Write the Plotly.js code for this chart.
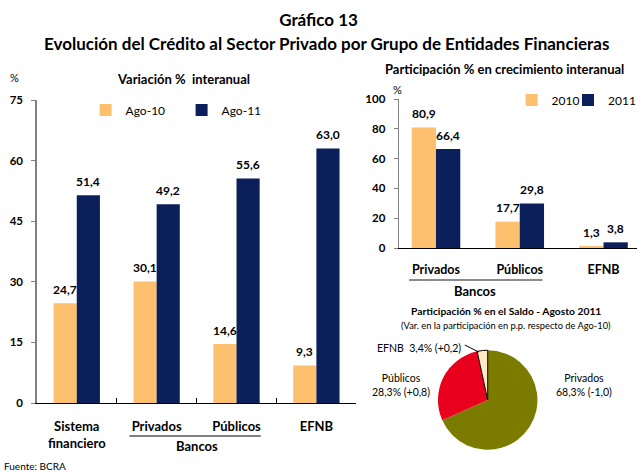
<!DOCTYPE html>
<html><head><meta charset="utf-8">
<script src="https://cdn.plot.ly/plotly-3.0.1.min.js"></script>
<style>html,body{margin:0;padding:0;background:#fff}#chart{width:641px;height:473px}</style>
</head><body><div id="chart"></div>
<script>
// ---- data ----
const catsLeft = ['Sistema<br>financiero', 'Privados', 'Públicos', 'EFNB'];
const ago10 = [24.7, 30.1, 14.6, 9.3];
const ago11 = [51.4, 49.2, 55.6, 63.0];
const seriesLeft = ['Ago-10', 'Ago-11'];
const yTicksLeft = [0, 15, 30, 45, 60, 75];

const catsRight = ['Privados', 'Públicos', 'EFNB'];
const part2010 = [80.9, 17.7, 1.3];
const part2011 = [66.4, 29.8, 3.8];
const seriesRight = ['2010', '2011'];
const yTicksRight = [0, 20, 40, 60, 80, 100];

const pieLabels = ['Privados', 'Públicos', 'EFNB'];
const pieShare = [68.3, 28.3, 3.4];
const pieChange = ['-1,0', '+0,8', '+0,2'];

// ---- style ----
const FONT = 'Lato, "Open Sans", sans-serif';
const ORANGE = '#FDC06E';
const NAVY = '#0B1F5B';
const W = 641, H = 473;
const px = v => v / W;
const py = v => 1 - v / H;
const fmt = v => v.toFixed(1).replace('.', ',');

const traces = [
  {type: 'bar', x: catsLeft, y: ago10, name: seriesLeft[0], marker: {color: ORANGE}, xaxis: 'x', yaxis: 'y', legend: 'legend', hoverinfo: 'none'},
  {type: 'bar', x: catsLeft, y: ago11, name: seriesLeft[1], marker: {color: NAVY}, xaxis: 'x', yaxis: 'y', legend: 'legend', hoverinfo: 'none'},
  {type: 'bar', x: catsRight, y: part2010, name: seriesRight[0], marker: {color: ORANGE}, xaxis: 'x2', yaxis: 'y2', legend: 'legend2', hoverinfo: 'none'},
  {type: 'bar', x: catsRight, y: part2011, name: seriesRight[1], marker: {color: NAVY}, xaxis: 'x2', yaxis: 'y2', legend: 'legend3', hoverinfo: 'none'},
  {type: 'pie', labels: pieLabels, values: pieShare, sort: false, direction: 'clockwise', rotation: 0,
   textinfo: 'none', hoverinfo: 'none', showlegend: false,
   marker: {colors: ['#7B7B00', '#E8001C', '#FDE9C8'], line: {color: ['rgba(0,0,0,0)', 'rgba(0,0,0,0)', '#000'], width: [0, 0, 1]}},
   domain: {x: [px(440), px(540)], y: [py(450), py(350)]}}
];

const annotations = [];
const half = 0.145;
const valFont = {family: FONT, size: 12, color: '#000', weight: 'bold'};
ago10.forEach((v, i) => annotations.push({xref: 'x', yref: 'y', x: i - half, y: v, yshift: 14, text: fmt(v), showarrow: false, font: valFont}));
ago11.forEach((v, i) => annotations.push({xref: 'x', yref: 'y', x: i + half, y: v, yshift: 14, text: fmt(v), showarrow: false, font: valFont}));
part2010.forEach((v, i) => annotations.push({xref: 'x2', yref: 'y2', x: i - half, y: v, yshift: 14, text: fmt(v), showarrow: false, font: valFont}));
part2011.forEach((v, i) => annotations.push({xref: 'x2', yref: 'y2', x: i + half, y: v, yshift: 14, text: fmt(v), showarrow: false, font: valFont}));

const txt = (text, x, y, size, bold, extra) => Object.assign({xref: 'paper', yref: 'paper', x: px(x), y: py(y), text: text, showarrow: false,
  xanchor: 'center', yanchor: 'middle', font: {family: FONT, size: size, color: '#000', weight: bold ? 'bold' : 'normal'}}, extra || {});

annotations.push(
  txt('Evolución del Crédito al Sector Privado por Grupo de Entidades Financieras', 328, 44, 17, true),
  txt('Variación %  interanual', 184, 79, 13, true),
  txt('%', 15, 77, 11, false),
  txt('Bancos', 198, 446, 13, true),
  txt('Participación % en crecimiento interanual', 507, 69, 13, true),
  txt('%', 399, 89, 11, false),
  txt('Bancos', 477, 291, 13, true),
  txt('Participación % en el Saldo - Agosto 2011', 508, 311, 10.3, true),
  txt('(Var. en la participación en p.p. respecto de Ago-10)', 508, 325, 9.3, false),
  txt(pieLabels[2] + '  ' + fmt(pieShare[2]) + '% (' + pieChange[2] + ')', 377, 348, 10.5, false, {xanchor: 'left'}),
  txt(pieLabels[1] + '<br>' + fmt(pieShare[1]) + '% (' + pieChange[1] + ')', 403, 385, 10.5, false),
  txt(pieLabels[0] + '<br>' + fmt(pieShare[0]) + '% (' + pieChange[0] + ')', 587, 385, 10.5, false),
  txt('Fuente: BCRA', 2, 466, 10, false, {xanchor: 'left'})
);

const shapes = [
  {type: 'line', xref: 'paper', yref: 'paper', x0: px(130), x1: px(262), y0: py(436), y1: py(436), line: {color: '#000', width: 1}},
  {type: 'line', xref: 'paper', yref: 'paper', x0: px(411), x1: px(545), y0: py(280), y1: py(280), line: {color: '#666', width: 1.5}},
  {type: 'line', xref: 'paper', yref: 'paper', x0: px(467), x1: px(481), y0: py(345), y1: py(352), line: {color: '#000', width: 1}}
];

const tickFont = {family: FONT, size: 11.5, color: '#000', weight: 'bold'};
const legendBase = {orientation: 'h', xanchor: 'left', yanchor: 'middle', font: {family: FONT, size: 12, color: '#000'},
  bgcolor: 'rgba(0,0,0,0)', itemclick: false, itemdoubleclick: false};

const layout = {
  width: W, height: H,
  margin: {l: 0, r: 0, t: 0, b: 0},
  paper_bgcolor: '#fff', plot_bgcolor: '#fff',
  font: {family: FONT, color: '#000'},
  title: {text: 'Gráfico 13', x: 0.497, xanchor: 'center', y: py(20), yanchor: 'middle', font: {family: FONT, size: 17, color: '#000', weight: 'bold'}},
  barmode: 'group', bargap: 0.42, bargroupgap: 0,
  showlegend: true,
  xaxis: {domain: [px(37), px(358)], anchor: 'y', type: 'category', range: [-0.5, 3.5], showline: true, linecolor: '#000', linewidth: 1,
    ticks: 'inside', tickson: 'boundaries', ticklen: 5, tickcolor: '#000', tickfont: Object.assign({}, tickFont, {size: 13}), ticklabelstandoff: 11,
    showgrid: false, zeroline: false, fixedrange: true},
  yaxis: {domain: [py(403), py(100)], anchor: 'x', range: [0, 75], tickvals: yTicksLeft, showline: true, linecolor: '#808080', linewidth: 1.5,
    ticks: 'outside', ticklen: 4, tickcolor: '#808080', tickfont: tickFont, ticklabelstandoff: 6, showgrid: false, zeroline: false, fixedrange: true},
  xaxis2: {domain: [px(401), px(640)], anchor: 'y2', type: 'category', range: [-0.44, 2.4], showline: true, linecolor: '#000', linewidth: 1,
    ticks: '', tickfont: Object.assign({}, tickFont, {size: 12.5}), ticklabelstandoff: 10, showgrid: false, zeroline: false, fixedrange: true},
  yaxis2: {domain: [py(248), py(99)], anchor: 'x2', range: [0, 100], tickvals: yTicksRight, showline: true, linecolor: '#808080', linewidth: 1.5,
    ticks: 'outside', ticklen: 4, tickcolor: '#808080', tickfont: tickFont, ticklabelstandoff: 6, showgrid: false, zeroline: false, fixedrange: true},
  legend: Object.assign({}, legendBase, {x: px(86), y: py(110), entrywidth: 51, entrywidthmode: 'pixels'}),
  legend2: Object.assign({}, legendBase, {x: px(514), y: py(100)}),
  legend3: Object.assign({}, legendBase, {x: px(571), y: py(100)}),
  annotations: annotations,
  shapes: shapes
};

Plotly.newPlot('chart', traces, layout, {displayModeBar: false, staticPlot: true});
</script></body></html>
